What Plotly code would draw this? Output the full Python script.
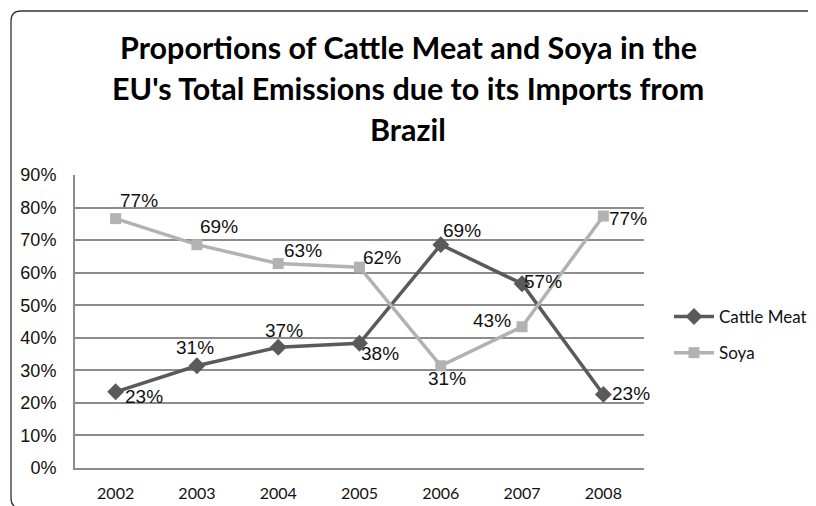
import plotly.graph_objects as go

years = ["2002", "2003", "2004", "2005", "2006", "2007", "2008"]
cattle_meat = [0.234, 0.314, 0.371, 0.383, 0.686, 0.566, 0.226]
soya = [0.766, 0.686, 0.628, 0.617, 0.314, 0.434, 0.774]
title_lines = ["Proportions of Cattle Meat and Soya in the",
               "EU's Total Emissions due to its Imports from",
               "Brazil"]

# label offsets (pixels) relative to each marker
cattle_dx = [28, -2, 6, 20, 21, 21, 28]
cattle_dy = [-5, 18, 17, -10, 14, 2, 1]
soya_dx = [23, 22, 25, 22, 6, -30, 25]
soya_dy = [18, 18, 13, 10, -13, 6, -2]

OFF = 8  # page body margin
W, H = 816 - OFF, 506 - OFF
L, R, T, B = 75, 644, 175, 468  # plot area in page pixels

def px(x):
    return (x - L) / (R - L)

def py(y):
    return (B - y) / (B - T)

CATTLE = "rgb(90,90,90)"
SOYA = "rgb(178,178,178)"
LABEL_FONT = dict(family="Liberation Sans, Arial", size=19, color="#111")

fig = go.Figure()
fig.add_trace(go.Scatter(
    x=years, y=cattle_meat, name="Cattle Meat", mode="lines+markers",
    line=dict(color=CATTLE, width=3.5),
    marker=dict(symbol="diamond", size=13, color=CATTLE),
    legendgroup="a", cliponaxis=False,
))
fig.add_trace(go.Scatter(
    x=years, y=soya, name="Soya", mode="lines+markers",
    line=dict(color=SOYA, width=3.5),
    marker=dict(symbol="square", size=11, color=SOYA),
    legendgroup="b", cliponaxis=False,
))

annotations = []
for series, dxs, dys in ((cattle_meat, cattle_dx, cattle_dy), (soya, soya_dx, soya_dy)):
    for i, (v, dx, dy) in enumerate(zip(series, dxs, dys)):
        annotations.append(dict(
            x=i, y=v, xref="x", yref="y", text=f"{v:.0%}", showarrow=False,
            xshift=dx, yshift=dy, xanchor="center", yanchor="middle",
            font=LABEL_FONT,
        ))

for i, line in enumerate(title_lines):
    annotations.append(dict(
        text="<b>" + line + "</b>", xref="paper", yref="paper",
        x=px(408), y=py(47 + 41 * i), xanchor="center", yanchor="middle",
        showarrow=False,
        font=dict(family="Lato", size=30.5, color="#000"),
    ))

# rounded chart border
x0, x1 = px(11), px(822)
y0, y1 = py(508), py(11)
rx, ry = 10 / (R - L), 10 / (B - T)
path = (f"M {x0+rx},{y1} L {x1-rx},{y1} Q {x1},{y1} {x1},{y1-ry} "
        f"L {x1},{y0+ry} Q {x1},{y0} {x1-rx},{y0} L {x0+rx},{y0} "
        f"Q {x0},{y0} {x0},{y0+ry} L {x0},{y1-ry} Q {x0},{y1} {x0+rx},{y1} Z")

fig.update_layout(
    width=W, height=H,
    margin=dict(l=L - OFF, r=816 - R, t=T - OFF, b=506 - B, pad=0, autoexpand=False),
    paper_bgcolor="white", plot_bgcolor="white",
    showlegend=True,
    legend=dict(x=px(669), y=py(299), xanchor="left", yanchor="top",
                font=dict(family="Lato", size=17, color="#111"),
                tracegroupgap=11, itemwidth=40, bgcolor="rgba(0,0,0,0)"),
    annotations=annotations,
    shapes=[dict(type="path", path=path, xref="paper", yref="paper",
                 line=dict(color="#333", width=1.3), layer="above")],
    xaxis=dict(type="category", range=[-0.5, 6.5], showgrid=False, showline=True,
               linecolor="rgb(140,140,140)", linewidth=2, ticks="",
               tickfont=dict(family="Lato", size=16, color="#111"),
               ticklabelstandoff=10, automargin=False, fixedrange=True),
    yaxis=dict(range=[0, 0.9], dtick=0.1, tickformat=".0%",
               showgrid=True, gridcolor="rgb(140,140,140)", gridwidth=1.5,
               showline=True, linecolor="rgb(140,140,140)", linewidth=2,
               zeroline=False, ticks="",
               tickfont=dict(family="Liberation Sans, Arial", size=18, color="#111"),
               ticklabelstandoff=13, automargin=False, fixedrange=True),
)
fig.write_html("out.html")
